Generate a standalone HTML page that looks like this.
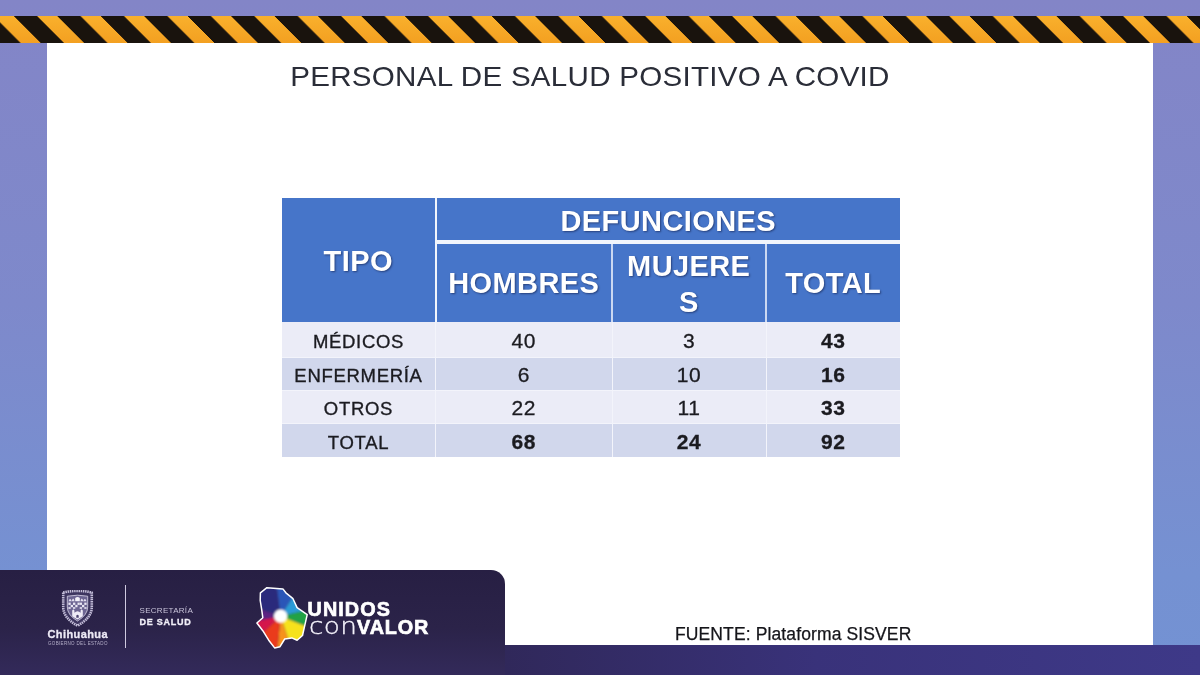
<!DOCTYPE html>
<html lang="es">
<head>
<meta charset="utf-8">
<title>Personal de salud positivo a COVID</title>
<style>
html,body{margin:0;padding:0;}
body{width:1200px;height:675px;overflow:hidden;position:relative;font-family:"Liberation Sans",sans-serif;background:#7f86c8;}
#bg{position:absolute;left:0;top:0;width:1200px;height:675px;background:linear-gradient(180deg,#8385c7 0%,#7e89cb 45%,#7591d2 85%,#7392d3 100%);}
#stripes{position:absolute;left:0;top:16px;width:1200px;height:27px;display:block;}
#panel{position:absolute;left:47px;top:43px;width:1106px;height:605px;background:#fff;}
#title{position:absolute;left:0;top:60.6px;width:1180px;text-align:center;font-size:27.5px;color:#2a2d38;letter-spacing:.25px;white-space:nowrap;transform:scaleX(1.075);transform-origin:590px 0;}
#bottombar{position:absolute;left:0;top:645px;width:1200px;height:30px;background:linear-gradient(90deg,#2c2450 0%,#30285a 42%,#39327a 68%,#3e3988 100%);}
#footer{position:absolute;left:0;top:570px;width:505px;height:105px;background:linear-gradient(180deg,#271f43 0%,#2b2349 55%,#332a5a 100%);border-top-right-radius:14px;}
#fuente{position:absolute;left:675px;top:624.3px;font-size:17.5px;letter-spacing:.12px;color:#15151a;white-space:nowrap;-webkit-text-stroke:.25px #15151a;}

/* table */
#tbl{position:absolute;left:282px;top:198px;width:618px;height:259px;background:#f1f5fc;}
.c{position:absolute;box-sizing:border-box;display:flex;align-items:center;justify-content:center;text-align:center;}
.h{background:#4675c9;color:#fff;font-weight:bold;font-size:29px;letter-spacing:.4px;text-shadow:1px 1px 2px rgba(0,0,30,.45);}
.r1{background:#ebecf7;}
.r2{background:#d1d7ec;}
.t{font-size:18.5px;letter-spacing:.7px;color:#1b1b20;-webkit-text-stroke:.35px #1b1b20;}
.n{font-size:21px;letter-spacing:.5px;color:#1b1b20;-webkit-text-stroke:.3px #1b1b20;}
.b{font-weight:bold;}

/* footer logos */
#shield{position:absolute;left:61px;top:590px;}
#chi{position:absolute;left:47.5px;top:627.5px;font-weight:bold;font-size:11px;letter-spacing:.4px;color:#ece9f5;-webkit-text-stroke:.3px #ece9f5;white-space:nowrap;line-height:12px;}
#gob{position:absolute;left:47.5px;top:640.5px;font-size:9px;letter-spacing:.66px;color:#b5afc9;white-space:nowrap;line-height:10px;transform:scale(.5);transform-origin:0 0;}
#vline{position:absolute;left:124.5px;top:585px;width:1.6px;height:63px;background:#cfcadf;}
#sec{position:absolute;left:139.5px;top:605.5px;font-size:8px;letter-spacing:.3px;color:#c9c4da;white-space:nowrap;line-height:9px;}
#sal{position:absolute;left:139.5px;top:616.5px;font-size:9px;font-weight:bold;letter-spacing:.75px;color:#f1eff8;white-space:nowrap;line-height:10px;-webkit-text-stroke:.3px #f1eff8;}
#map{position:absolute;left:254px;top:584px;}
#uni{position:absolute;left:307.5px;top:598.2px;font-size:19.8px;font-weight:bold;letter-spacing:1.1px;color:#fff;white-space:nowrap;line-height:22px;-webkit-text-stroke:.7px #fff;}
#con{position:absolute;left:308.6px;top:611.3px;font-family:"DejaVu Sans","Liberation Sans",sans-serif;font-weight:200;font-size:22.5px;letter-spacing:.3px;color:#f3f1fa;white-space:nowrap;line-height:30px;-webkit-text-stroke:.35px #f3f1fa;transform:scaleX(1.17);transform-origin:0 0;}
#val{position:absolute;left:357px;top:615.8px;font-size:19.8px;font-weight:bold;letter-spacing:.9px;color:#fff;white-space:nowrap;line-height:22px;-webkit-text-stroke:.7px #fff;}
</style>
</head>
<body>
<div id="bg"></div>
<svg id="stripes" width="1200" height="27" viewBox="0 0 1200 27">
<defs>
<linearGradient id="og" x1="0" y1="0" x2="0" y2="1"><stop offset="0" stop-color="#f9b02c"/><stop offset="1" stop-color="#f3a021"/></linearGradient>
<pattern id="hz" width="43.44" height="60" patternUnits="userSpaceOnUse" patternTransform="translate(13.75 0) skewX(45)"><rect x="0" y="-10" width="23.3" height="80" fill="#19130d"/></pattern>
</defs>
<rect width="1200" height="27" fill="url(#og)"/>
<rect width="1200" height="27" fill="url(#hz)"/>
</svg>
<div id="panel"></div>
<div id="title">PERSONAL DE SALUD POSITIVO A COVID</div>

<div id="tbl">
  <div style="position:absolute;left:154.5px;top:45.5px;width:463.5px;height:78px;background:#cbd8f2;"></div>
  <div style="position:absolute;left:0;top:123.5px;width:618px;height:135.5px;background:#f3f4fb;"></div>
  <div class="c h" style="left:0px;top:0px;width:152.5px;height:123.5px;padding-top:3px;">TIPO</div>
  <div class="c h" style="left:154.5px;top:0px;width:463.5px;height:42px;padding-top:5px;">DEFUNCIONES</div>
  <div class="c h" style="left:154.5px;top:45.5px;width:174.5px;height:78px;padding-top:2px;">HOMBRES</div>
  <div class="c h" style="left:330.5px;top:45.5px;width:152.5px;height:78px;line-height:36px;word-break:break-all;padding:3px 12px 0;">MUJERES</div>
  <div class="c h" style="left:484.5px;top:45.5px;width:133.5px;height:78px;padding-top:2px;">TOTAL</div>
  <div class="c r1 t" style="left:0px;top:123.5px;width:153px;height:35px;padding-top:6px;">MÉDICOS</div>
  <div class="c r1 n" style="left:154px;top:123.5px;width:175.5px;height:35px;padding-top:3px;">40</div>
  <div class="c r1 n" style="left:330.5px;top:123.5px;width:153px;height:35px;padding-top:3px;">3</div>
  <div class="c r1 n b" style="left:484.5px;top:123.5px;width:133.5px;height:35px;padding-top:3px;">43</div>
  <div class="c r2 t" style="left:0px;top:159.5px;width:153px;height:32px;padding-top:4px;">ENFERMERÍA</div>
  <div class="c r2 n" style="left:154px;top:159.5px;width:175.5px;height:32px;padding-top:2px;">6</div>
  <div class="c r2 n" style="left:330.5px;top:159.5px;width:153px;height:32px;padding-top:2px;">10</div>
  <div class="c r2 n b" style="left:484.5px;top:159.5px;width:133.5px;height:32px;padding-top:2px;">16</div>
  <div class="c r1 t" style="left:0px;top:192.5px;width:153px;height:32.5px;padding-top:4px;">OTROS</div>
  <div class="c r1 n" style="left:154px;top:192.5px;width:175.5px;height:32.5px;padding-top:3px;">22</div>
  <div class="c r1 n" style="left:330.5px;top:192.5px;width:153px;height:32.5px;padding-top:3px;">11</div>
  <div class="c r1 n b" style="left:484.5px;top:192.5px;width:133.5px;height:32.5px;padding-top:3px;">33</div>
  <div class="c r2 t" style="left:0px;top:226px;width:153px;height:33px;padding-top:4px;">TOTAL</div>
  <div class="c r2 n b" style="left:154px;top:226px;width:175.5px;height:33px;padding-top:2px;">68</div>
  <div class="c r2 n b" style="left:330.5px;top:226px;width:153px;height:33px;padding-top:2px;">24</div>
  <div class="c r2 n b" style="left:484.5px;top:226px;width:133.5px;height:33px;padding-top:2px;">92</div>
</div>

<div id="fuente">FUENTE: Plataforma SISVER</div>
<div id="bottombar"></div>
<div id="footer"></div>
<svg id="shield" width="33" height="37" viewBox="0 0 33 37">
  <path d="M2.2 2.4 Q16.5 -0.6 30.8 2.4 L30.8 17 Q30.8 28 16.5 35.6 Q2.2 28 2.2 17 Z" fill="#3d355f" stroke="#c3bdd8" stroke-width="2.6" stroke-dasharray="1.5 .7" stroke-linejoin="round"/>
  <path d="M6.3 6.2 Q16.5 4.2 26.7 6.2 L26.7 17 Q26.7 25 16.5 31 Q6.3 25 6.3 17 Z" fill="#6d6592" stroke="#d9d5e8" stroke-width=".8"/>
  <path d="M7.5 11.2 q1.6 -4.4 3.2 0 q1.4 -5.6 2.9 0 h5.8 q1.4 -5.6 2.9 0 q1.6 -4.4 3.2 0 z" fill="#e4e0ef"/>
  <path d="M14.2 11.2 v-3.2 q2.3 -1.8 4.6 0 v3.2 z" fill="#f4f2fa"/>
  <g fill="#e9e6f3">
    <rect x="7.4" y="12.6" width="2.3" height="2.3"/><rect x="12" y="12.6" width="2.3" height="2.3"/><rect x="18.7" y="12.6" width="2.3" height="2.3"/><rect x="23.3" y="12.6" width="2.3" height="2.3"/>
    <rect x="9.7" y="14.9" width="2.3" height="2.3"/><rect x="14.3" y="14.9" width="2.2" height="2.3"/><rect x="16.5" y="12.6" width="2.2" height="2.3"/><rect x="21" y="14.9" width="2.3" height="2.3"/>
    <rect x="7.4" y="17.2" width="2.3" height="1.6"/><rect x="12" y="17.2" width="2.3" height="1.6"/><rect x="18.7" y="17.2" width="2.3" height="1.6"/><rect x="23.3" y="17.2" width="2.3" height="1.6"/>
  </g>
  <path d="M11.2 26.2 v-5.6 l1.1 -1.3 l1.1 1.3 v2.2 q3.1 -3.2 6.2 0 v-2.2 l1.1 -1.3 l1.1 1.3 v5.6 l-5.3 3.4 z" fill="#eeebf6"/>
  <path d="M15.3 27.8 v-2.4 q1.2 -1.3 2.4 0 v2.4 z" fill="#4a4270"/>
</svg>
<div id="chi">Chihuahua</div>
<div id="gob">GOBIERNO DEL ESTADO</div>
<div id="vline"></div>
<div id="sec">SECRETARÍA</div>
<div id="sal">DE SALUD</div>
<svg id="map" width="58" height="68" viewBox="0 0 58 68">
  <defs>
    <clipPath id="mc"><path id="mo" d="M6.4 8.8 L12.9 3.7 L28.9 4.9 L31.9 8.8 L39.0 14.7 L43.1 23.6 L53.2 30.7 L50.9 40.8 L48.5 51.5 L43.1 56.2 L37.8 53.9 L30.7 55.0 L26.0 62.7 L20.6 63.9 L14.7 56.2 L8.8 46.7 L2.9 39.0 L8.8 33.7 L7.6 24.8 L6.2 16.5 Z"/></clipPath>
    <filter id="bl" x="-20%" y="-20%" width="140%" height="140%"><feGaussianBlur stdDeviation="1.2"/></filter>
  </defs>
  <g clip-path="url(#mc)"><g filter="url(#bl)">
    <polygon points="26.6,32.2 -10,20 -5,-20 20,-20" fill="#2b2a7c"/>
    <polygon points="26.6,32.2 20,-20 45,-10 42,8" fill="#2c56b8"/>
    <polygon points="26.6,32.2 42,8 60,14 62,24" fill="#2b9bd6"/>
    <polygon points="26.6,32.2 62,24 70,40 56,44" fill="#21a244"/>
    <polygon points="26.6,32.2 56,44 64,62 40,72" fill="#f6e21f"/>
    <polygon points="26.6,32.2 40,72 20,80 24,60" fill="#f6921e"/>
    <polygon points="26.6,32.2 24,60 18,80 -6,62" fill="#ea3a1e"/>
    <polygon points="26.6,32.2 -6,62 -12,44 -4,38" fill="#d4124c"/>
    <polygon points="26.6,32.2 -4,38 -12,30 -10,20" fill="#5b2283"/>
    <circle cx="26.6" cy="32.2" r="6.6" fill="#fff"/>
  </g></g>
  <use href="#mo" fill="none" stroke="#fff" stroke-width="1.5" stroke-linejoin="round"/>
</svg>
<div id="uni">UNIDOS</div>
<div id="con">con</div>
<div id="val">VALOR</div>
</body>
</html>
